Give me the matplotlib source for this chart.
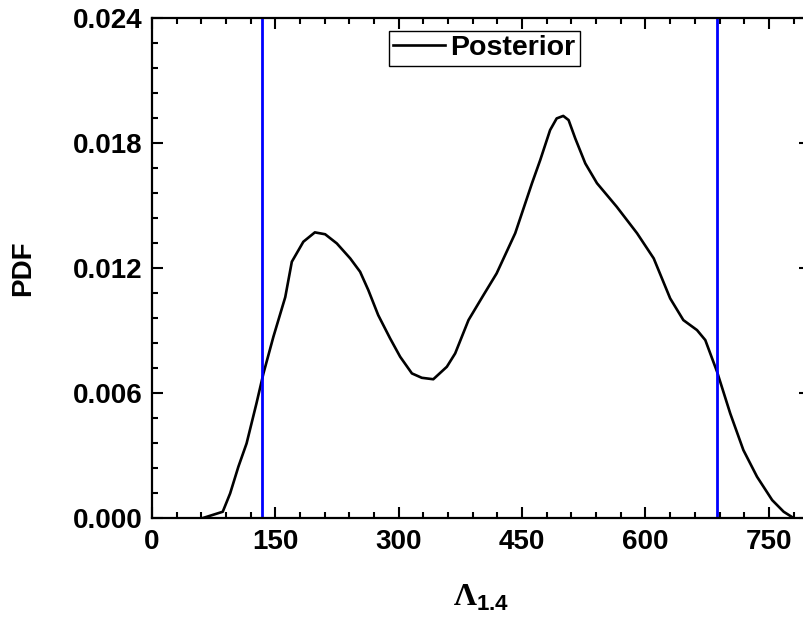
import numpy as np
import matplotlib
matplotlib.use("Agg")
import matplotlib.pyplot as plt
from matplotlib.ticker import MultipleLocator, FormatStrFormatter

plt.rcParams['font.family'] = ['Liberation Sans', 'DejaVu Sans']
plt.rcParams['font.weight'] = 'bold'
plt.rcParams['mathtext.fontset'] = 'custom'
plt.rcParams['mathtext.rm'] = 'Liberation Serif'
plt.rcParams['mathtext.bf'] = 'Liberation Sans:bold'

# posterior curve
lam = [62, 86, 95, 105, 115, 127, 135.5, 147.6, 162, 170, 184, 198, 210.5, 224.7,
       241, 253, 263, 275, 289.5, 301.7, 316, 328, 342, 358.5, 368.6, 384.8, 403,
       419, 441.6, 462, 472, 484, 492, 500, 506.5, 514.6, 526.8, 541, 565, 589.7,
       610, 630, 646, 662.6, 672.7, 687, 703, 719, 735.6, 754, 768, 780]
pdf = [0.0, 0.0003, 0.00118, 0.00246, 0.00358, 0.0055, 0.00694, 0.0087, 0.0106,
       0.0123, 0.01326, 0.01371, 0.01362, 0.01318, 0.01246, 0.01182, 0.01094,
       0.00974, 0.00862, 0.00774, 0.00694, 0.00673, 0.00666, 0.00726, 0.0079,
       0.0095, 0.0107, 0.01174, 0.01367, 0.01607, 0.01718, 0.01862, 0.01918,
       0.0193, 0.0191, 0.01822, 0.01702, 0.01607, 0.01494, 0.01367, 0.01246,
       0.01054, 0.0095, 0.00902, 0.00854, 0.00702, 0.00502, 0.00326, 0.00198,
       0.00086, 0.0003, 0.0]
bounds = [134, 687]   # credible interval limits

fig = plt.figure(figsize=(8.04, 6.18), dpi=100)
ax = fig.add_axes([152/804, 1-518/618, (810-152)/804, 500/618])

ax.plot(lam, pdf, color='black', lw=1.9, label='Posterior')
for b in bounds:
    ax.axvline(b, color='#0000ff', lw=2.0)

ax.set_xlim(0, 800)
ax.set_ylim(0, 0.024)
ax.xaxis.set_major_locator(MultipleLocator(150))
ax.xaxis.set_minor_locator(MultipleLocator(30))
ax.yaxis.set_major_locator(MultipleLocator(0.006))
ax.yaxis.set_minor_locator(MultipleLocator(0.0012))
ax.yaxis.set_major_formatter(FormatStrFormatter('%.3f'))

ax.tick_params(which='both', direction='in', top=True, right=True, width=1.5, labelsize=20)
ax.tick_params(which='major', length=8)
ax.tick_params(which='minor', length=4.5)
ax.tick_params(axis='x', pad=8)
ax.tick_params(axis='y', pad=7)
for s in ax.spines.values():
    s.set_linewidth(1.6)

ax.set_ylabel('PDF', fontsize=20, fontweight='bold', labelpad=26)
ax.set_xlabel(r'$\Lambda_{\mathbf{1.4}}$', fontsize=23, labelpad=20)

leg = ax.legend(loc='upper left', bbox_to_anchor=(389/804, 1-31/618),
                bbox_transform=fig.transFigure, borderaxespad=0,
                fancybox=False, edgecolor='black', framealpha=1,
                prop={'size': 20.5, 'weight': 'bold'}, handlelength=1.8,
                handletextpad=0.2, borderpad=0.15)
leg.get_frame().set_linewidth(1.0)

fig.savefig('out.png', dpi=100)
